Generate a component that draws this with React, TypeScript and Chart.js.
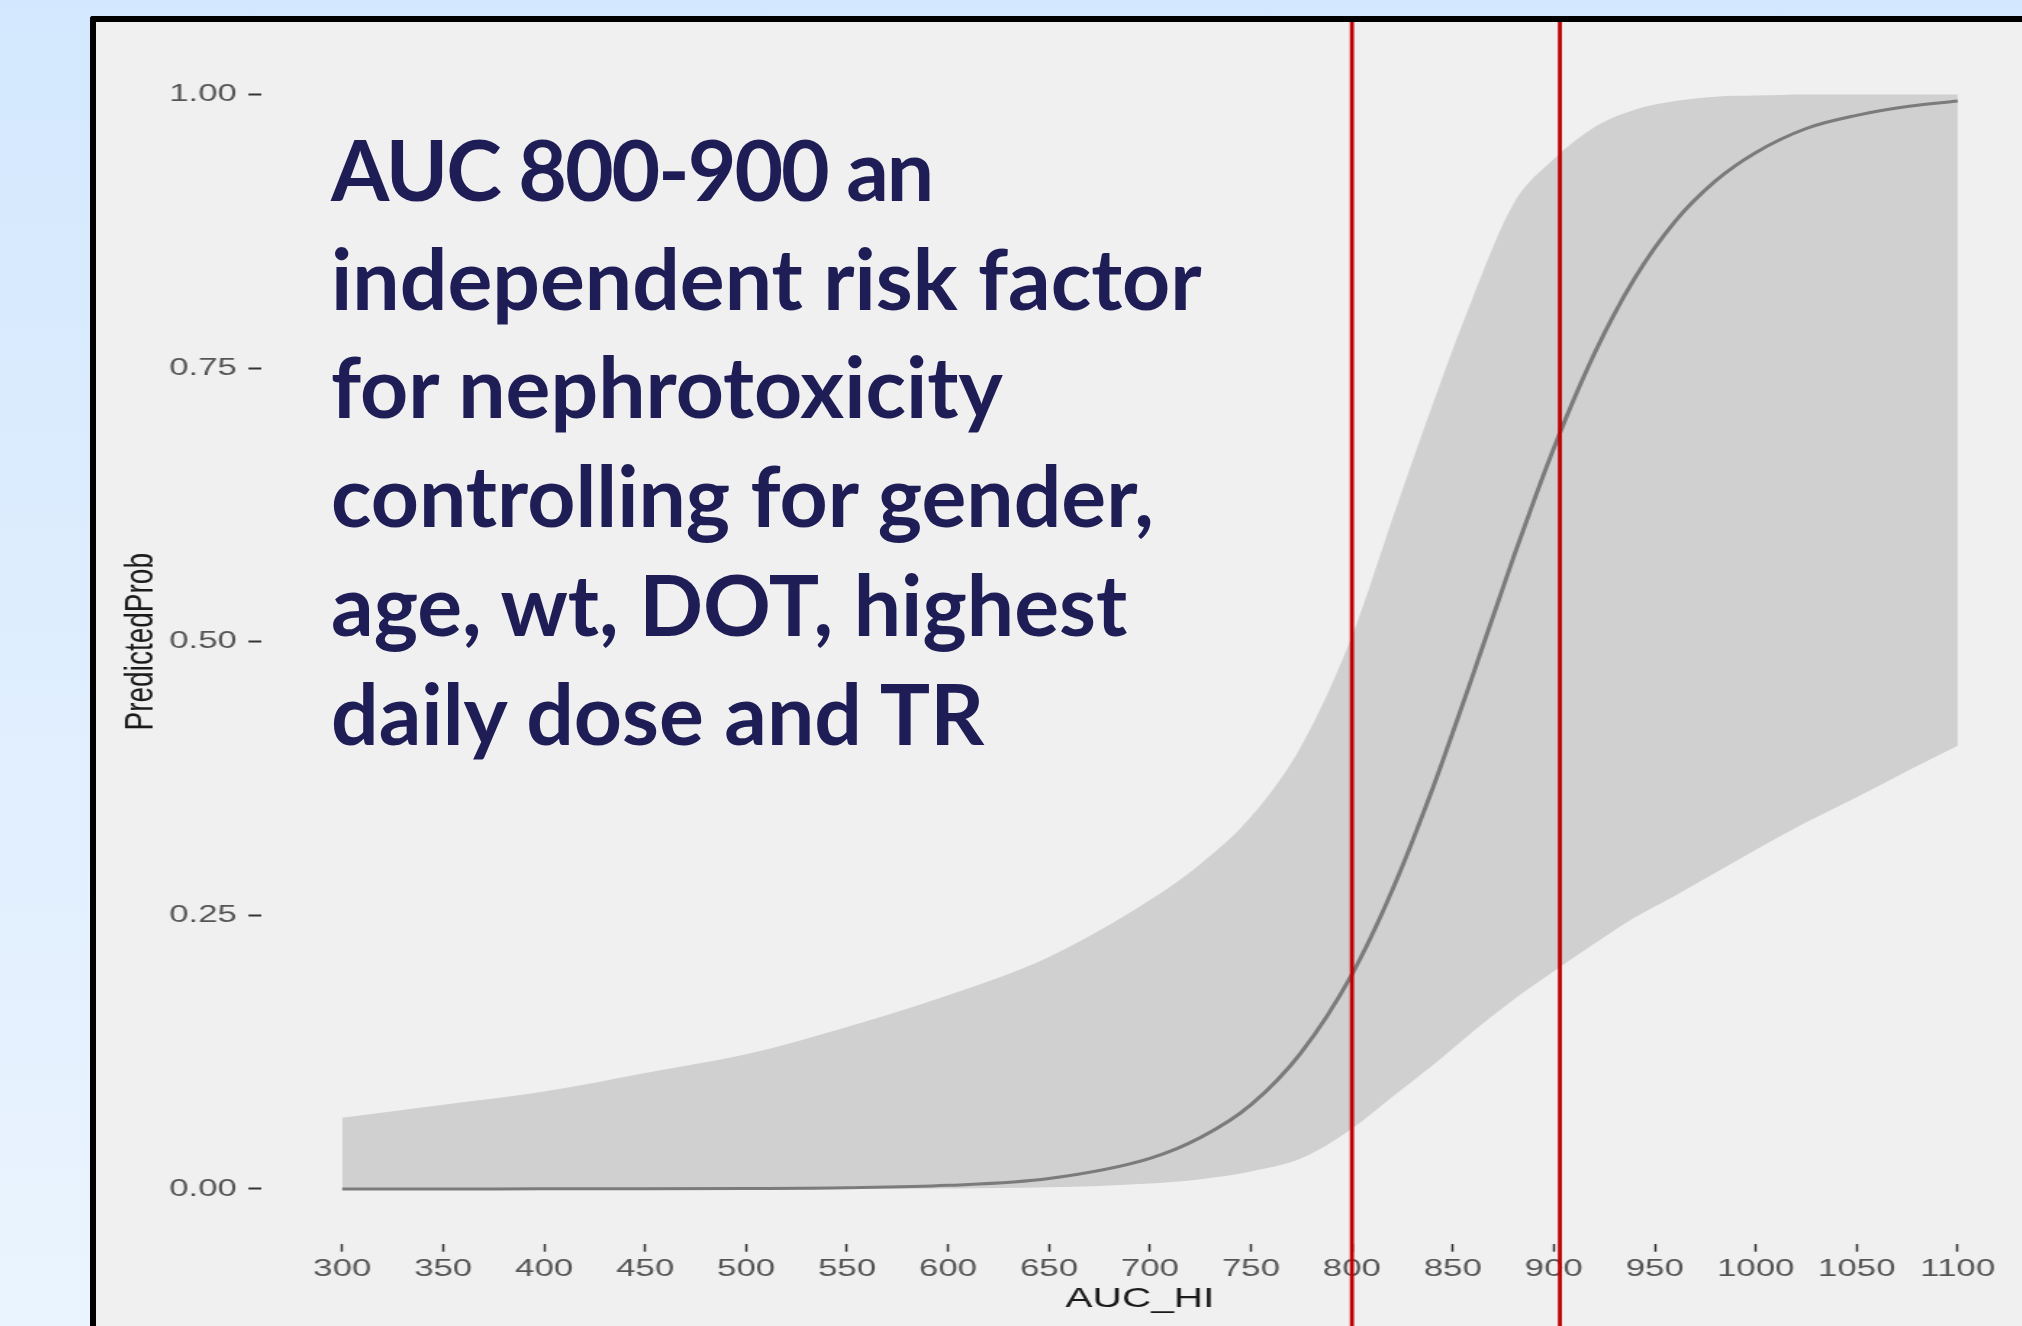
import React, { useEffect, useRef } from 'react';
import { Chart, registerables } from 'chart.js';

Chart.register(...registerables);

// AUC_HI values (x) at which the curves were read
const aucValues = [300, 350, 400, 450, 500, 550, 600, 650, 700, 725, 750, 775, 800, 820, 840, 860, 880, 900, 920, 940, 960, 980, 1000, 1025, 1050, 1075, 1100];
// Predicted probability (fitted line)
const fittedProb = [0.0, 0.0, 0.0001, 0.0001, 0.0004, 0.0011, 0.0033, 0.0096, 0.028, 0.047, 0.077, 0.125, 0.196, 0.273, 0.366, 0.47, 0.577, 0.677, 0.763, 0.832, 0.884, 0.921, 0.947, 0.969, 0.981, 0.989, 0.994];
// Confidence band
const lowerCI = [0.0, 0.0, 0.0, 0.0, 0.0001, 0.0002, 0.0005, 0.0015, 0.005, 0.009, 0.016, 0.028, 0.055, 0.084, 0.113, 0.144, 0.173, 0.199, 0.224, 0.248, 0.268, 0.289, 0.31, 0.335, 0.358, 0.382, 0.405];
const upperCI = [0.065, 0.077, 0.089, 0.106, 0.123, 0.148, 0.177, 0.212, 0.264, 0.297, 0.34, 0.405, 0.505, 0.612, 0.717, 0.815, 0.9, 0.941, 0.97, 0.986, 0.994, 0.998, 0.999, 1.0, 1.0, 1.0, 1.0];

const xTickValues = [300, 350, 400, 450, 500, 550, 600, 650, 700, 750, 800, 850, 900, 950, 1000, 1050, 1100];
const yTickValues = [0, 0.25, 0.5, 0.75, 1.0];
const markerValues = [800, 903];

const headingLines = [
  'AUC 800-900 an',
  'independent risk factor',
  'for nephrotoxicity',
  'controlling for gender,',
  'age, wt, DOT, highest',
  'daily dose and TR',
];

const STRETCH = 1.45;
const CANVAS_W = 1328;
const CANVAS_H = 1304;

export default function App() {
  const canvasRef = useRef<HTMLCanvasElement | null>(null);

  useEffect(() => {
    if (!canvasRef.current) return;
    const pts = (ys: number[]) => aucValues.map((x, i) => ({ x, y: ys[i] }));

    const markerPlugin = {
      id: 'markerLines',
      afterDatasetsDraw(chart: any) {
        const { ctx } = chart;
        const xs = chart.scales.x;
        ctx.save();
        ctx.strokeStyle = '#c00000';
        ctx.lineWidth = 2.8;
        markerValues.forEach((v) => {
          const px = xs.getPixelForValue(v);
          ctx.beginPath();
          ctx.moveTo(px, 0);
          ctx.lineTo(px, chart.height);
          ctx.stroke();
        });
        ctx.restore();
      },
    };

    const tickFont = { family: '"Liberation Sans", Arial, sans-serif', size: 24 };
    const titleFont = { family: '"Liberation Sans", Arial, sans-serif', size: 28 };

    const chart = new Chart(canvasRef.current, {
      type: 'line',
      data: {
        datasets: [
          {
            label: 'PredictedProb',
            data: pts(fittedProb),
            borderColor: '#7b7b7b',
            borderWidth: 3,
            pointRadius: 0,
            fill: false,
            cubicInterpolationMode: 'monotone',
            order: 0,
          },
          {
            label: 'lower',
            data: pts(lowerCI),
            borderColor: 'rgba(0,0,0,0)',
            borderWidth: 0,
            pointRadius: 0,
            fill: false,
            backgroundColor: '#d0d0d0',
            cubicInterpolationMode: 'monotone',
            order: 1,
          },
          {
            label: 'upper',
            data: pts(upperCI),
            borderColor: 'rgba(0,0,0,0)',
            borderWidth: 0,
            pointRadius: 0,
            fill: '-1',
            backgroundColor: '#d0d0d0',
            cubicInterpolationMode: 'monotone',
            order: 1,
          },
        ],
      },
      options: {
        animation: false,
        responsive: true,
        maintainAspectRatio: false,
        devicePixelRatio: 1,
        layout: { padding: { top: 17.8, left: 0, right: 2.3, bottom: 0 } },
        plugins: {
          legend: { display: false },
          tooltip: { enabled: false },
        },
        scales: {
          x: {
            type: 'linear',
            min: 260,
            max: 1130,
            afterBuildTicks: (s: any) => {
              s.ticks = xTickValues.map((v) => ({ value: v }));
            },
            afterFit: (s: any) => {
              s.height = 82.3;
              s.paddingLeft = 0;
              s.paddingRight = 0;
            },
            ticks: {
              color: '#555555',
              font: tickFont,
              padding: 3,
              maxRotation: 0,
              autoSkip: false,
              callback: (v: any) => String(v),
            },
            grid: {
              drawOnChartArea: false,
              drawTicks: true,
              tickLength: 8,
              tickColor: '#333333',
              tickWidth: 1.5,
            },
            border: { display: false },
            title: {
              display: true,
              text: 'AUC_HI',
              color: '#1a1a1a',
              font: titleFont,
              padding: { top: 0, bottom: 10 },
            },
          },
          y: {
            type: 'linear',
            min: -0.05,
            max: 1.05,
            afterBuildTicks: (s: any) => {
              s.ticks = yTickValues.map((v) => ({ value: v }));
            },
            afterFit: (s: any) => {
              s.width = 114.1;
              s.paddingTop = 0;
              s.paddingBottom = 0;
            },
            ticks: {
              color: '#555555',
              font: tickFont,
              padding: 8,
              callback: (v: any) => Number(v).toFixed(2),
            },
            grid: {
              drawOnChartArea: false,
              drawTicks: true,
              tickLength: 9,
              tickColor: '#333333',
              tickWidth: 2,
            },
            border: { display: false },
            title: {
              display: true,
              text: 'PredictedProb',
              color: '#1a1a1a',
              font: titleFont,
              padding: { top: 14, bottom: 0 },
            },
          },
        },
      },
      plugins: [markerPlugin],
    } as any);

    return () => chart.destroy();
  }, []);

  return (
    <div
      style={{
        position: 'fixed',
        left: 0,
        top: 0,
        width: 2022,
        height: 1326,
        overflow: 'hidden',
        background: 'linear-gradient(180deg, #d3e8fe 0%, #e0eefe 55%, #eaf4fe 100%)',
      }}
    >
      <div
        style={{
          position: 'absolute',
          left: 90,
          top: 16,
          width: 2000,
          height: 1400,
          borderLeft: '6px solid #000',
          borderTop: '6px solid #000',
          borderTopLeftRadius: 3,
          background: '#f0f0f0',
        }}
      />
      <div
        style={{
          position: 'absolute',
          left: 96,
          top: 22,
          width: CANVAS_W,
          height: CANVAS_H,
          transform: `scaleX(${STRETCH})`,
          transformOrigin: '0 0',
        }}
      >
        <canvas ref={canvasRef} />
      </div>
      <div
        style={{
          position: 'absolute',
          left: 331,
          top: 115,
          fontFamily: 'Lato, "Open Sans", sans-serif',
          fontWeight: 700,
          fontSize: 84,
          lineHeight: '108.7px',
          color: '#1f1d56',
          whiteSpace: 'nowrap',
        }}
      >
        {headingLines.map((l, i) => (
          <div key={l} style={i === 0 ? { letterSpacing: '-2px' } : undefined}>
            {l}
          </div>
        ))}
      </div>
    </div>
  );
}
